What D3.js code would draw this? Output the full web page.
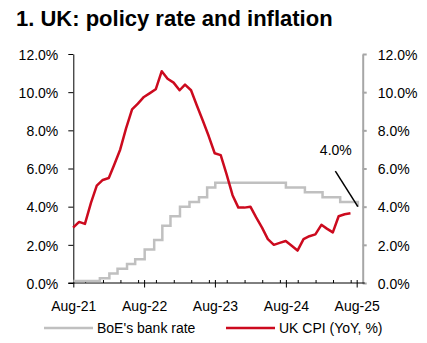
<!DOCTYPE html>
<html>
<head>
<meta charset="utf-8">
<script src="https://cdn.jsdelivr.net/npm/d3@7"></script>
<style>
  body { margin: 0; background: #fff; }
  svg { font-family: Arial, "Liberation Sans", sans-serif; }
</style>
</head>
<body>
<svg width="427" height="343"></svg>
<script>
// UK CPI, YoY %, monthly from Jul-21 (plotted at month end)
const cpiStartYear = 2021, cpiStartMonth = 6;
const cpiValues = [
  2.9, 3.2, 3.1, 4.2, 5.1, 5.4, 5.5, 6.2, 7.0, 8.1,
  9.1, 9.4, 9.75, 9.95, 10.15, 11.1, 10.7, 10.5, 10.1, 10.4,
  10.1, 9.3, 8.5, 7.7, 6.8, 6.7, 5.7, 4.6, 3.95, 3.95,
  4.0, 3.45, 2.9, 2.3, 2.0, 2.1, 2.2, 1.95, 1.7, 2.3,
  2.45, 2.55, 3.05, 2.85, 2.65, 3.5, 3.6, 3.65
];

// BoE bank rate, by MPC decision date
const rateDates = [
  "2021-08-01", "2021-12-16", "2022-02-03", "2022-03-17", "2022-05-05",
  "2022-06-16", "2022-08-04", "2022-09-22", "2022-11-03", "2022-12-15",
  "2023-02-02", "2023-03-23", "2023-05-11", "2023-06-22", "2023-08-03",
  "2024-08-01", "2024-11-07", "2025-02-06", "2025-05-08", "2025-08-07"
];
const rateValues = [
  0.1, 0.25, 0.5, 0.75, 1.0,
  1.25, 1.75, 2.25, 3.0, 3.5,
  4.0, 4.25, 4.5, 5.0, 5.25,
  5.0, 4.75, 4.5, 4.25, 4.0
];

const yTicks = [0, 2, 4, 6, 8, 10, 12];
const xTickDates = ["2021-08-01", "2022-08-01", "2023-08-01", "2024-08-01", "2025-08-01"];
const xTickLabels = ["Aug-21", "Aug-22", "Aug-23", "Aug-24", "Aug-25"];
const seriesNames = ["BoE's bank rate", "UK CPI (YoY, %)"];
const seriesColors = ["#c0c0c0", "#cc0a1e"];

const svg = d3.select("svg");
const parse = d3.timeParse("%Y-%m-%d");

const x = d3.scaleTime()
  .domain([parse("2021-08-01"), parse("2025-09-01")])
  .range([73.3, 362.7]);
const y = d3.scaleLinear().domain([0, 12]).range([283, 54]);
const pct = (d) => d3.format(".1f")(d) + "%";

// title
svg.append("text")
  .attr("x", 16).attr("y", 26)
  .attr("font-size", 22).attr("font-weight", "bold")
  .text("1. UK: policy rate and inflation");

// left axis
const left = svg.append("g")
  .attr("transform", `translate(${x.range()[0]},0)`)
  .call(d3.axisLeft(y).tickValues(yTicks).tickFormat(pct).tickSize(5).tickSizeOuter(0).tickPadding(10));
left.selectAll("text").attr("font-size", 14).attr("fill", "#000").attr("dy", "0.38em");
left.selectAll("path,line").attr("stroke", "#000");

// right axis (grey)
const right = svg.append("g")
  .attr("transform", `translate(${x.range()[1]},0)`)
  .call(d3.axisRight(y).tickValues(yTicks).tickFormat(pct).tickSize(4).tickSizeOuter(0).tickPadding(11));
right.selectAll("text").attr("font-size", 14).attr("fill", "#000").attr("dy", "0.38em");
right.selectAll("path,line").attr("stroke", "#a6a6a6").attr("stroke-width", 2);

// quarterly minor ticks, pointing up
const minorTicks = d3.timeMonth.every(3).range(parse("2021-08-01"), parse("2025-09-01"))
  .filter((d) => d.getMonth() !== 7);
svg.append("g")
  .attr("transform", `translate(0,${y(0)})`)
  .call(d3.axisTop(x).tickValues(minorTicks).tickFormat("").tickSize(3).tickSizeOuter(0))
  .call((g) => g.select(".domain").remove())
  .selectAll("line").attr("stroke", "#000");

// bottom axis with yearly labels
const bottom = svg.append("g")
  .attr("transform", `translate(0,${y(0)})`)
  .call(d3.axisBottom(x)
    .tickValues(xTickDates.map(parse))
    .tickFormat((d, i) => xTickLabels[i])
    .tickSize(4.5).tickSizeOuter(0).tickPadding(13.5));
bottom.select(".domain").attr("stroke", "#000").attr("d", `M${x.range()[0] - 5},0H${x.range()[1] + 2}`);
bottom.selectAll(".tick line").attr("stroke", "#000").attr("y1", -3);
bottom.selectAll("text").attr("font-size", 14).attr("fill", "#000");

// bank rate step line
const rateData = rateDates.map((d, i) => ({ date: parse(d), value: rateValues[i] }));
svg.append("path")
  .datum(rateData)
  .attr("fill", "none")
  .attr("stroke", seriesColors[0])
  .attr("stroke-width", 2.5)
  .attr("d", d3.line().curve(d3.curveStepAfter).x((d) => x(d.date)).y((d) => y(d.value)));

// CPI line
const cpiData = cpiValues.map((v, i) => ({ date: new Date(cpiStartYear, cpiStartMonth + i + 1, 0), value: v }));
svg.append("path")
  .datum(cpiData)
  .attr("fill", "none")
  .attr("stroke", seriesColors[1])
  .attr("stroke-width", 2.5)
  .attr("stroke-linejoin", "round")
  .attr("d", d3.line().x((d) => x(d.date)).y((d) => y(d.value)));

// callout for the latest bank rate
const last = rateData[rateData.length - 1];
const tipX = x(last.date), tipY = y(last.value);
svg.append("line")
  .attr("x1", tipX - 22.5).attr("y1", tipY - 35.5)
  .attr("x2", tipX).attr("y2", tipY)
  .attr("stroke", "#000").attr("stroke-width", 1.5);
svg.append("text")
  .attr("x", tipX - 38).attr("y", tipY - 51.5)
  .attr("font-size", 14)
  .text(pct(last.value));

// legend
const legendX = [44, 226];
const legend = svg.append("g").attr("transform", "translate(0,328)");
seriesNames.forEach((name, i) => {
  legend.append("line")
    .attr("x1", legendX[i]).attr("x2", legendX[i] + 49)
    .attr("stroke", seriesColors[i]).attr("stroke-width", 2.5);
  legend.append("text")
    .attr("x", legendX[i] + 53).attr("dy", "0.36em")
    .attr("font-size", 14)
    .text(name);
});
</script>
</body>
</html>
